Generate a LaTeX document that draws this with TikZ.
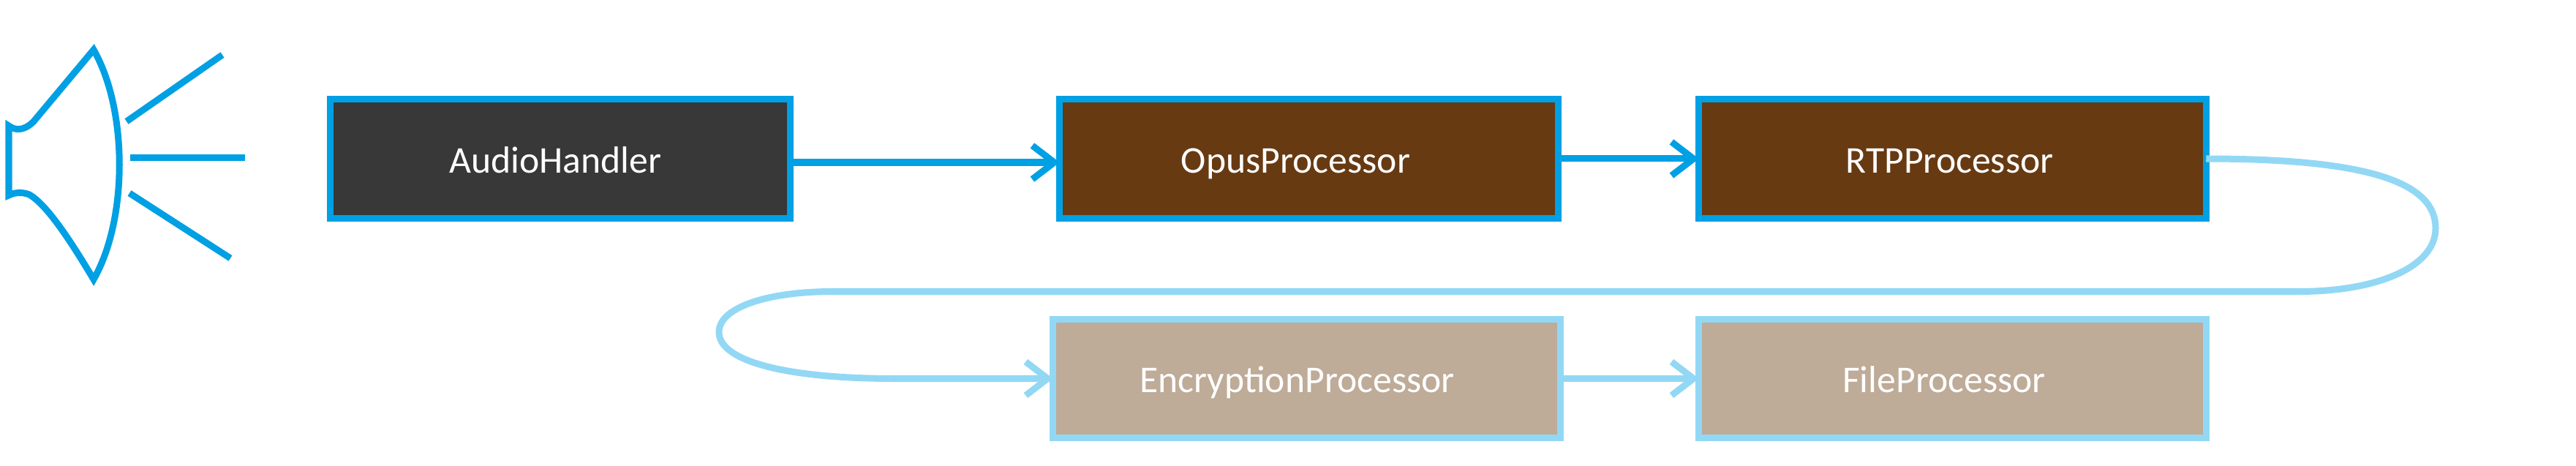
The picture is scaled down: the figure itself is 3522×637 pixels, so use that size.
\documentclass[tikz,border=0pt]{standalone}
\usepackage{fontspec}
\setmainfont{Carlito}
\usetikzlibrary{arrows.meta}
\definecolor{strongblue}{HTML}{00A0E4}
\definecolor{paleblue}{HTML}{92D8F5}
\definecolor{darkfill}{HTML}{383838}
\definecolor{brownfill}{HTML}{673A12}
\definecolor{tanfill}{HTML}{BEAB98}
\tikzset{
  procbox/.style={draw=strongblue,line width=.09cm,inner sep=0pt,outer sep=0pt,minimum height=1.62cm,minimum width=6.93cm,text height=.55cm,text depth=.17cm,text=white,font=\fontsize{14.7pt}{18pt}\selectfont},
  palebox/.style={procbox,draw=paleblue,fill=tanfill},
  flow/.style={strongblue,line width=.09cm,-{Straight Barb[length=.3cm,width=.46cm]}},
  paleflow/.style={flow,paleblue},
  speakerline/.style={strongblue,line width=.09cm}
}
\begin{document}
\begin{tikzpicture}[x=.01cm,y=-.01cm]
\useasboundingbox (0,0) rectangle (3522,637);
% speaker
\draw[speakerline] (12,267)--(12,172) .. controls (20,178) and (32,180) .. (46,166)--(128,68) .. controls (175,150) and (175,300) .. (128,382) .. controls (100,335) and (65,280) .. (40,266) .. controls (30,262) and (20,263) .. (12,267)--cycle;
\draw[speakerline] (173,166)--(304,75);
\draw[speakerline] (178,216)--(335,216);
\draw[speakerline] (177,264)--(315,353);
% boxes
\node[procbox,fill=darkfill,minimum width=6.28cm] (audio) at (766,217) {\hspace*{-.135cm}AudioHandler};
\node[procbox,fill=brownfill,minimum width=6.81cm] (opus) at (1789.5,217) {\hspace*{-.36cm}OpusProcessor};
\node[procbox,fill=brownfill] (rtp) at (2669.5,217) {\hspace*{-.08cm}RTPProcessor};
\node[palebox] (encryption) at (1786.5,517.5) {\hspace*{-.26cm}EncryptionProcessor};
\node[palebox] (file) at (2669.5,517.5) {\hspace*{-.23cm}FileProcessor};
% bends of the long connector
\coordinate (t) at (3143,398.5);\coordinate (u) at (1139,398.5);\coordinate (v) at (1222,517.5);
% connectors
\draw[flow] ([yshift=-.05cm]audio.east)--([yshift=-.05cm]opus.west);
\draw[flow] (opus.east)--(rtp.west);
\draw[paleflow] (rtp.east) .. controls (3240,217) and (3330,250) .. (3330,312) .. controls (3330,365) and (3250,398.5) .. (t)--(u) .. controls (1050,398.5) and (983,420) .. (983,454) .. controls (983,495) and (1080,517.5) .. (v)--(encryption.west);
\draw[paleflow] (encryption.east)--(file.west);
\end{tikzpicture}
\end{document}
